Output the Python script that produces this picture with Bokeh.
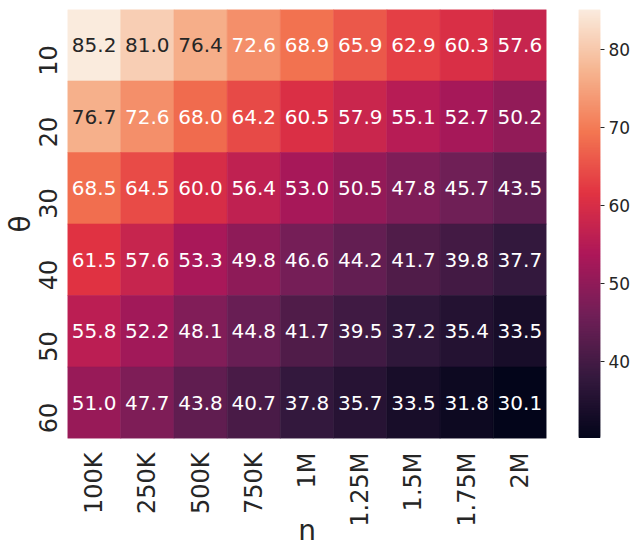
import numpy as np
from bokeh.plotting import figure
from bokeh.layouts import row
from bokeh.models import ColumnDataSource, LinearColorMapper, FixedTicker, Range1d
from bokeh.transform import transform
from bokeh.embed import file_html
from bokeh.resources import INLINE
from bokeh.core.properties import value

# ---- data ----
n_labels = ["100K", "250K", "500K", "750K", "1M", "1.25M", "1.5M", "1.75M", "2M"]
theta_labels = ["10", "20", "30", "40", "50", "60"]
row_10 = [85.2, 81.0, 76.4, 72.6, 68.9, 65.9, 62.9, 60.3, 57.6]
row_20 = [76.7, 72.6, 68.0, 64.2, 60.5, 57.9, 55.1, 52.7, 50.2]
row_30 = [68.5, 64.5, 60.0, 56.4, 53.0, 50.5, 47.8, 45.7, 43.5]
row_40 = [61.5, 57.6, 53.3, 49.8, 46.6, 44.2, 41.7, 39.8, 37.7]
row_50 = [55.8, 52.2, 48.1, 44.8, 41.7, 39.5, 37.2, 35.4, 33.5]
row_60 = [51.0, 47.7, 43.8, 40.7, 37.8, 35.7, 33.5, 31.8, 30.1]
rows = [row_10, row_20, row_30, row_40, row_50, row_60]
colorbar_ticks = [40, 50, 60, 70, 80]

# rocket colormap anchors
rocket_anchors = ["#03051a", "#35193e", "#701f57", "#ad1759",
                  "#e13342", "#f37651", "#f6b48f", "#faebdd"]


def hex2rgb(h):
    h = h.lstrip("#")
    return [int(h[i:i + 2], 16) for i in (0, 2, 4)]


anc = np.array([hex2rgb(c) for c in rocket_anchors], dtype=float)
apos = np.linspace(0, 1, len(rocket_anchors))
t = np.linspace(0, 1, 256)
pal_rgb = np.stack([np.interp(t, apos, anc[:, k]) for k in range(3)], axis=1)
palette = ["#%02x%02x%02x" % tuple(int(round(v)) for v in c) for c in pal_rgb]

vals_all = [v for r in rows for v in r]
low, high = min(vals_all), max(vals_all)
mapper = LinearColorMapper(palette=palette, low=low, high=high)


def lum(rgb):
    c = np.array(rgb) / 255.0
    c = np.where(c <= 0.03928, c / 12.92, ((c + 0.055) / 1.055) ** 2.4)
    return 0.2126 * c[0] + 0.7152 * c[1] + 0.0722 * c[2]


xs, ys, vs, labels, tcolors = [], [], [], [], []
for th, r in zip(theta_labels, rows):
    for nl, v in zip(n_labels, r):
        xs.append(nl)
        ys.append(th)
        vs.append(v)
        labels.append("%.1f" % v)
        idx = int(min(255, max(0, (v - low) / (high - low) * 255)))
        tcolors.append("#262626" if lum(pal_rgb[idx]) > 0.408 else "#ffffff")

src = ColumnDataSource(dict(n=xs, theta=ys, v=vs, label=labels, tc=tcolors))

FONT = "DejaVu Sans"
TXT = "#262626"
p = figure(frame_width=479, frame_height=429, x_range=n_labels,
           y_range=list(reversed(theta_labels)),
           output_backend="svg", toolbar_location=None,
           min_border_left=58, min_border_top=9, min_border_bottom=0,
           min_border_right=32)
p.rect(x="n", y="theta", width=1, height=1, source=src,
       fill_color=transform("v", mapper), line_color=transform("v", mapper),
       line_width=0.6)
p.text(x="n", y="theta", text="label", source=src, text_color="tc",
       text_align="center", text_baseline="middle",
       text_font=value(FONT), text_font_size="20px")

p.outline_line_color = None
p.grid.visible = False
for ax in (p.xaxis, p.yaxis):
    ax.axis_line_color = None
    ax.major_tick_line_color = None
    ax.minor_tick_line_color = None
    ax.major_label_text_font = FONT
    ax.major_label_text_font_size = "24px"
    ax.major_label_text_color = TXT
    ax.axis_label_text_font = FONT
    ax.axis_label_text_font_size = "28px"
    ax.axis_label_text_font_style = "normal"
    ax.axis_label_text_color = TXT
p.xaxis.major_label_orientation = np.pi / 2
p.yaxis.major_label_orientation = np.pi / 2
p.xaxis.major_label_standoff = 8
p.yaxis.major_label_standoff = 14
p.xaxis.axis_label = "n"
p.yaxis.axis_label = "θ"
p.xaxis.axis_label_standoff = -16
p.yaxis.axis_label_standoff = -10

# colorbar as its own small figure
edges = np.linspace(low, high, len(palette) + 1)
step = edges[1] - edges[0]
cb_src = ColumnDataSource(dict(b=edges[:-1],
                               t=np.minimum(edges[1:] + step, high),
                               c=palette))
cb = figure(frame_width=22, frame_height=429, x_range=Range1d(0, 1),
            y_range=Range1d(low, high), output_backend="svg",
            toolbar_location=None, x_axis_location=None,
            y_axis_location="right", min_border_left=0, min_border_top=9,
            min_border_bottom=0, min_border_right=0)
cb.quad(left=0, right=1, bottom="b", top="t", fill_color="c", line_color=None,
        source=cb_src)
cb.outline_line_color = None
cb.grid.visible = False
ya = cb.yaxis[0]
ya.ticker = FixedTicker(ticks=colorbar_ticks)
ya.axis_line_color = None
ya.major_tick_in = 0
ya.major_tick_out = 4
ya.major_tick_line_color = TXT
ya.minor_tick_line_color = None
ya.major_label_text_font = FONT
ya.major_label_text_font_size = "17px"
ya.major_label_text_color = TXT
ya.major_label_standoff = 4

layout = row(p, cb)
open("out.html", "w").write(file_html(layout, INLINE))
